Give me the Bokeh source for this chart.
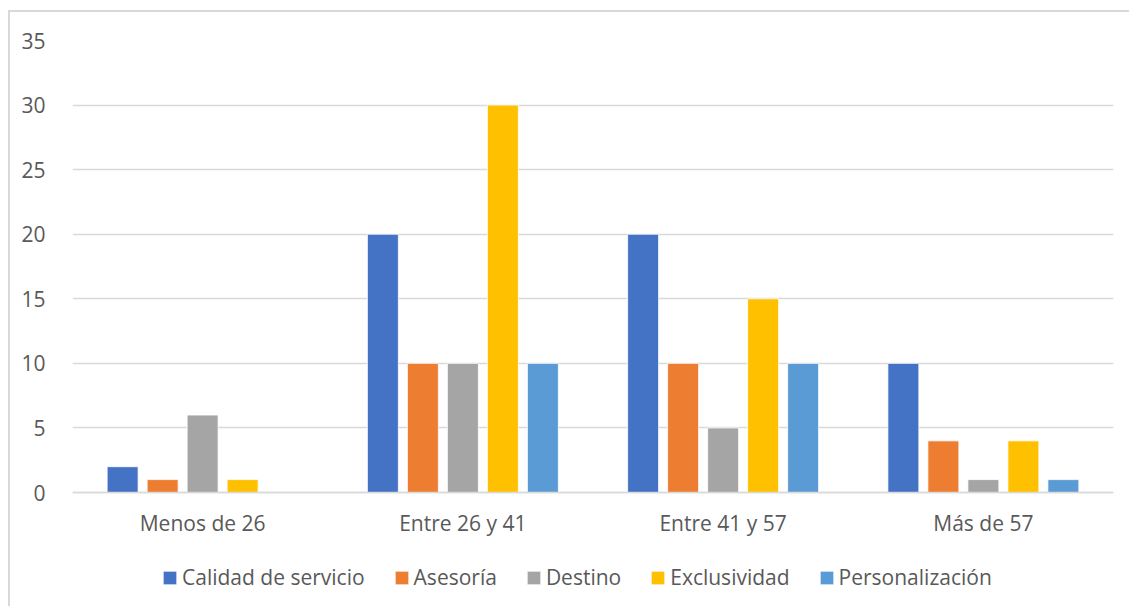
from bokeh.plotting import figure
from bokeh.models import ColumnDataSource, FactorRange, FixedTicker, Legend, LegendItem
from bokeh.transform import dodge
from bokeh.embed import file_html
from bokeh.resources import INLINE

# Age groups on the x axis
groups = ["Menos de 26", "Entre 26 y 41", "Entre 41 y 57", "Más de 57"]

# One list per series, values per age group
calidad = [2, 20, 20, 10]
asesoria = [1, 10, 10, 4]
destino = [6, 10, 5, 1]
exclusividad = [1, 30, 15, 4]
personalizacion = [0, 10, 10, 1]

series_names = ["Calidad de servicio", "Asesoría", "Destino", "Exclusividad", "Personalización"]
series_values = [calidad, asesoria, destino, exclusividad, personalizacion]
series_colors = ["#4472C4", "#ED7D31", "#A5A5A5", "#FFC000", "#5B9BD5"]

y_ticks = [0, 5, 10, 15, 20, 25, 30, 35]

FONT = "Open Sans"
FONT_SIZE = "21px"
TEXT_COLOR = "#595959"
GRID_COLOR = "#D9D9D9"

data = dict(group=groups)
for i, vals in enumerate(series_values):
    data[f"s{i}"] = vals
source = ColumnDataSource(data=data)

# The plot frame runs down to the bottom edge; the value axis stops at 0 and
# the space below it holds the category labels (axis pinned at y=0) and legend.
p = figure(
    x_range=FactorRange(*groups),
    y_range=(-8.98, 35),
    width=1121, height=596,
    output_backend="svg",
    toolbar_location=None,
    min_border_left=62, min_border_right=18,
    min_border_top=28, min_border_bottom=0,
)
p.styles = {
    "margin-left": "8px",
    "margin-top": "10px",
    "border-left": "2px solid #D9D9D9",
    "border-top": "2px solid #D9D9D9",
}
p.outline_line_color = None
p.background_fill_color = "white"
p.border_fill_color = "white"

step = 0.1537
bar_w = 0.119
renderers = []
for i, (name, color) in enumerate(zip(series_names, series_colors)):
    offset = (i - 2) * step
    r = p.vbar(
        x=dodge("group", offset, range=p.x_range),
        top=f"s{i}",
        width=bar_w,
        source=source,
        fill_color=color,
        line_color="white",
        line_width=0.8,
    )
    renderers.append((name, r))

# Axes
p.yaxis.ticker = FixedTicker(ticks=y_ticks)
p.yaxis.axis_line_color = None
p.yaxis.major_tick_line_color = None
p.yaxis.minor_tick_line_color = None
p.yaxis.major_label_standoff = 21
p.yaxis.major_label_text_font = FONT
p.yaxis.major_label_text_font_size = FONT_SIZE
p.yaxis.major_label_text_color = TEXT_COLOR

p.xaxis.fixed_location = 0
p.xaxis.axis_line_color = GRID_COLOR
p.xaxis.axis_line_width = 1.5
p.xaxis.major_tick_line_color = None
p.xaxis.minor_tick_line_color = None
p.xaxis.major_label_standoff = 10
p.xaxis.major_label_text_font = FONT
p.xaxis.major_label_text_font_size = FONT_SIZE
p.xaxis.major_label_text_color = TEXT_COLOR

p.xgrid.grid_line_color = None
p.ygrid.grid_line_color = GRID_COLOR
p.ygrid.grid_line_width = 1.5

legend = Legend(
    items=[LegendItem(label=n, renderers=[r]) for n, r in renderers],
    orientation="horizontal",
    location=(89, 17),
    padding=0, margin=0, spacing=28,
    glyph_width=17, glyph_height=17, label_standoff=4,
    label_text_font=FONT, label_text_font_size=FONT_SIZE,
    label_text_color=TEXT_COLOR, label_height=20,
    border_line_color=None, background_fill_alpha=0,
)
p.add_layout(legend, "center")

open("out.html", "w").write(file_html(p, INLINE))
